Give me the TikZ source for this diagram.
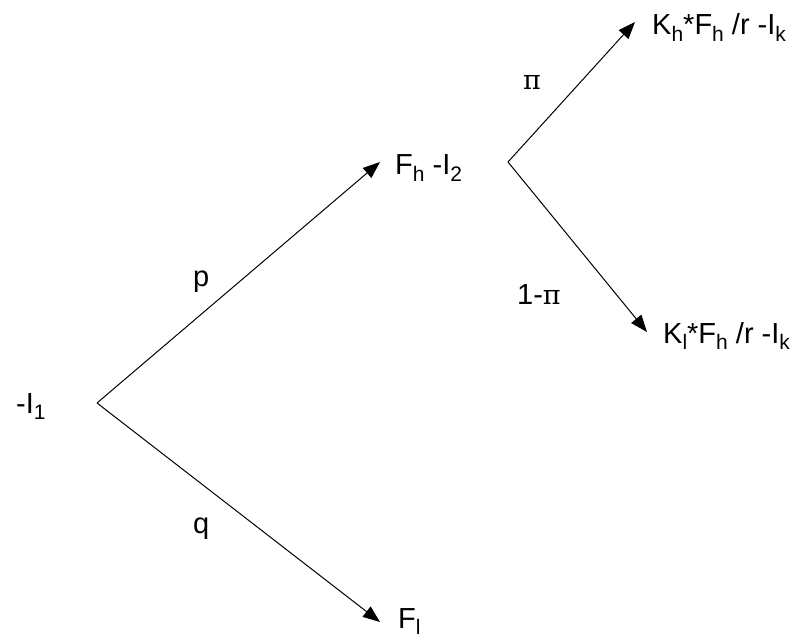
\documentclass[tikz,border=0pt]{standalone}
\usepackage{fontspec}
\setmainfont{Liberation Sans}
\newfontfamily\greekfont{DejaVu Serif}
\usetikzlibrary{arrows.meta}
\newcommand\sbs[1]{\raisebox{-0.22em}{\fontsize{21}{21}\selectfont #1}}
\newcommand\gpi{{\greekfont\fontsize{27}{30}\selectfont π}}
\begin{document}
\begin{tikzpicture}[x=1pt,y=-1pt,
  lbl/.style={inner sep=0pt, anchor=base west, font=\fontsize{29}{32}\selectfont},
  arr/.style={line width=1pt, -{Triangle[length=17pt,width=13pt]}}]
\useasboundingbox (0,0) rectangle (801,639);
% vertices and tips
\coordinate (v1) at (97,403);
\coordinate (v2) at (508,162);
\coordinate (t1) at (380,162);
\coordinate (t2) at (380,622);
\coordinate (t3) at (635,22);
\coordinate (t4) at (647,332);
% texts
\node[lbl] (root) at (16,413) {-I\sbs{1}};
\node[lbl] (fh) at (395,175) {F\sbs{h} -I\sbs{2}};
\node[lbl] (kh) at (652,35) {K\sbs{h}*F\sbs{h} /r -I\sbs{k}};
\node[lbl] (kl) at (663,343) {K\sbs{l}*F\sbs{h} /r -I\sbs{k}};
\node[lbl] (fl) at (398,628) {F\sbs{l}};
\node[lbl] (p) at (193,287) {p};
\node[lbl] (q) at (193,533) {q};
\node[lbl] (pi) at (523,90) {\gpi};
\node[lbl] (opi) at (517,305) {1-\gpi};
% connectors
\draw[arr] (v1) -- (t1);
\draw[arr] (v1) -- (t2);
\draw[arr] (v2) -- (t3);
\draw[arr] (v2) -- (t4);
\end{tikzpicture}
\end{document}
